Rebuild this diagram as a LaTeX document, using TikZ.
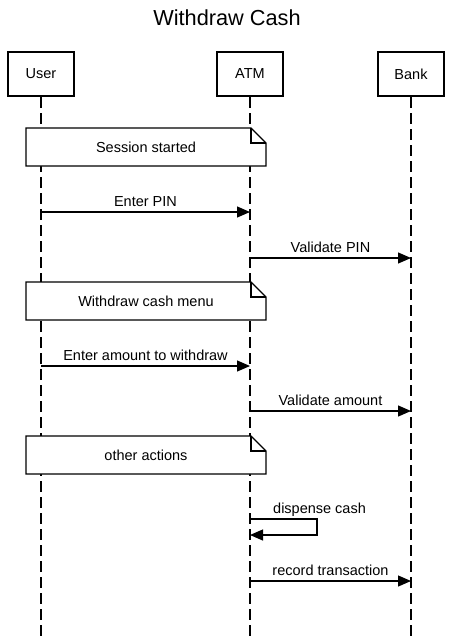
\documentclass[tikz,border=0pt]{standalone}
\usepackage{fontspec}
\setmainfont{Liberation Sans}
\usetikzlibrary{arrows.meta}

\begin{document}
\begin{tikzpicture}[x=1pt,y=-1pt,
  actor/.style={draw,line width=2.9pt,minimum width=66pt,minimum height=44pt,inner sep=0pt,font=\fontsize{14.5}{17}\selectfont},
  lifeline/.style={line width=1.2pt,dash pattern=on 11pt off 5pt},
  msg/.style={line width=1.2pt,-{Triangle[length=13pt,width=11pt]}},
  lbl/.style={font=\fontsize{14.5}{17}\selectfont,inner sep=0pt,anchor=base,yshift=6pt},
  notebox/.style={draw,line width=1.2pt,fill=white}]
\useasboundingbox (0,0) rectangle (454,638);
\node[font=\fontsize{21.75}{26}\selectfont] (title) at (227,18) {Withdraw Cash};
% actors and lifelines
\node[actor] (user) at (41,74) {User};
\node[actor] (atm) at (250,74) {ATM};
\node[actor] (bank) at (411,74) {Bank};
\coordinate (userend) at (41,638);
\coordinate (atmend) at (250,638);
\coordinate (bankend) at (411,638);
\draw[lifeline] (user) -- (userend);
\draw[lifeline] (atm) -- (atmend);
\draw[lifeline] (bank) -- (bankend);
% notes
\foreach \y/\name/\txt in {128/session/Session started,282/menu/Withdraw cash menu,436/other/other actions}{
  \draw[notebox] (26,\y) -- (251,\y) -- (266,\y+15) -- (266,\y+38) -- (26,\y+38) -- cycle;
  \draw[line width=1.2pt] (251,\y) -- (251,\y+15) -- (266,\y+15);
  \node[font=\fontsize{14.5}{17}\selectfont] (\name) at (146,\y+19) {\txt};
}
% messages
\coordinate (pin1) at (user |- 0,212);
\coordinate (pin2) at (atm |- 0,212);
\draw[msg] (pin1) -- node[lbl] {Enter PIN} (pin2);
\coordinate (vpin1) at (atm |- 0,258);
\coordinate (vpin2) at (bank |- 0,258);
\draw[msg] (vpin1) -- node[lbl] {Validate PIN} (vpin2);
\coordinate (amt1) at (user |- 0,366);
\coordinate (amt2) at (atm |- 0,366);
\draw[msg] (amt1) -- node[lbl] {Enter amount to withdraw} (amt2);
\coordinate (vamt1) at (atm |- 0,411);
\coordinate (vamt2) at (bank |- 0,411);
\draw[msg] (vamt1) -- node[lbl] {Validate amount} (vamt2);
\coordinate (cash1) at (atm |- 0,519);
\coordinate (cash2) at (317,519);
\coordinate (cash3) at (317,535);
\coordinate (cash4) at (atm |- 0,535);
\draw[msg] (cash1) -- (cash2) -- (cash3) -- (cash4);
\node[lbl,anchor=base west] (cashlbl) at (273,519) {dispense cash};
\coordinate (rec1) at (atm |- 0,581);
\coordinate (rec2) at (bank |- 0,581);
\draw[msg] (rec1) -- node[lbl] {record transaction} (rec2);
\end{tikzpicture}
\end{document}
